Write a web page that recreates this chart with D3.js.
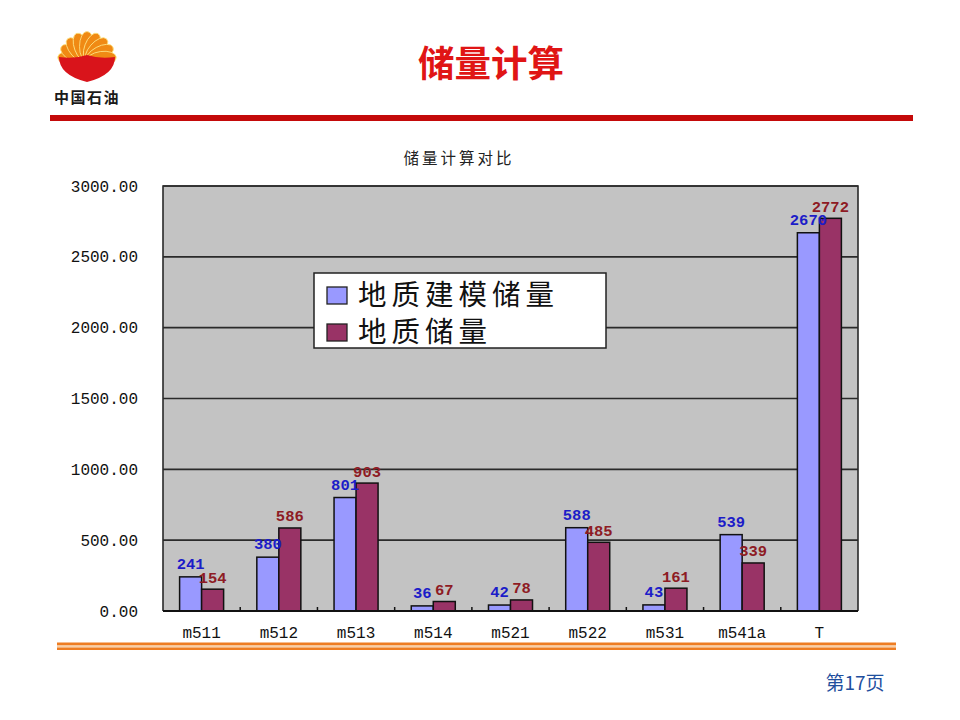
<!DOCTYPE html>
<html><head><meta charset="utf-8">
<script src="https://cdn.jsdelivr.net/npm/d3@7"></script>
<style>
html,body{margin:0;padding:0;background:#fff;}
svg{display:block;}
</style></head>
<body>
<script>
const categories = ["m511","m512","m513","m514","m521","m522","m531","m541a","T"];
const seriesNames = ["地质建模储量","地质储量"];
const modelReserves = [241,380,801,36,42,588,43,539,2670];
const geoReserves = [154,586,903,67,78,485,161,339,2772];
const yTicks = [0,500,1000,1500,2000,2500,3000];
const seriesColors = ["#9999ff","#993366"];
const labelColors = ["#1c1cc8","#8e1b24"];

const W=960,H=720;
const svg=d3.select("body").append("svg").attr("width",W).attr("height",H);

// ---- logo ----
const logo=svg.append("g");
const cx=87, cy=61;
const defs=svg.append("defs");
const rg=defs.append("radialGradient").attr("id","pet").attr("gradientUnits","userSpaceOnUse")
  .attr("cx",cx).attr("cy",cy).attr("r",30);
rg.append("stop").attr("offset","0%").attr("stop-color","#fff3a0");
rg.append("stop").attr("offset","45%").attr("stop-color","#fbc52c");
rg.append("stop").attr("offset","100%").attr("stop-color","#f08a14");
const petalAngles=d3.range(9).map(i=>-172+i*20.5);
petalAngles.forEach((a,i)=>{
  logo.append("ellipse").attr("cx",0).attr("cy",0).attr("rx",15).attr("ry",7.5)
    .attr("transform",`translate(${cx},${cy}) rotate(${a}) translate(14.5,0)`)
    .attr("fill","url(#pet)").attr("stroke","#fde68a").attr("stroke-width",0.8);
});
logo.append("path")
  .attr("d",`M${cx-28},${cy-4} Q${cx-28},${cy+14} ${cx},${cy+21} Q${cx+28},${cy+14} ${cx+28},${cy-4} Q${cx+12},${cy-2} ${cx},${cy-6} Q${cx-12},${cy-2} ${cx-28},${cy-4}Z`)
  .attr("fill","#d9141b");
svg.append("text").attr("x",87).attr("y",103).attr("text-anchor","middle")
  .attr("font-family","Noto Sans CJK SC").attr("font-weight","bold").attr("font-size",15)
  .attr("letter-spacing",1.5).attr("fill","#1a1a1a").text("中国石油");

// ---- title ----
svg.append("text").attr("x",491).attr("y",77).attr("text-anchor","middle")
  .attr("font-family","Noto Sans CJK SC").attr("font-weight","bold").attr("font-size",36.5)
  .attr("fill","#e01515").text("储量计算");
svg.append("rect").attr("x",50).attr("y",115).attr("width",863).attr("height",6).attr("fill","#c40a0a");

// ---- chart ----
const L=163,R=858,T=186,B=611;
const x0=d3.scaleBand().domain(categories).range([L,R]).paddingInner(0.43).paddingOuter(0.215);
const x1=d3.scaleBand().domain([0,1]).range([0,x0.bandwidth()]);
const y=d3.scaleLinear().domain([0,3000]).range([B,T]);

svg.append("text").attr("x",459).attr("y",164).attr("text-anchor","middle")
  .attr("font-family","Noto Sans CJK SC").attr("font-size",15.5).attr("letter-spacing",3)
  .attr("fill","#222").text("储量计算对比");

svg.append("rect").attr("x",L).attr("y",T).attr("width",R-L).attr("height",B-T).attr("fill","#c3c3c3");

// grid
svg.append("g").selectAll("line").data(yTicks).join("line")
  .attr("x1",L).attr("x2",R).attr("y1",d=>y(d)).attr("y2",d=>y(d))
  .attr("stroke","#2a2a2a").attr("stroke-width",1.6);
// frame
svg.append("path").attr("d",`M${L},${B}V${T}H${R}V${B}`).attr("fill","none").attr("stroke","#2a2a2a").attr("stroke-width",1.6);

// y axis labels
const yAxis=d3.axisLeft(y).tickValues(yTicks).tickFormat(d3.format(".2f")).tickSize(0).tickPadding(25);
const ga=svg.append("g").attr("transform",`translate(${L},0)`).call(yAxis);
ga.select(".domain").remove();
ga.selectAll("text").attr("font-family","Liberation Mono").attr("font-size",16).attr("fill","#111");

// bars
const data=categories.map((c,i)=>({c,vals:[modelReserves[i],geoReserves[i]]}));
const groups=svg.append("g").selectAll("g").data(data).join("g")
  .attr("transform",d=>`translate(${x0(d.c)},0)`);
groups.selectAll("rect").data(d=>d.vals.map((v,k)=>({v,k}))).join("rect")
  .attr("x",d=>x1(d.k)).attr("width",x1.bandwidth())
  .attr("y",d=>y(d.v)).attr("height",d=>B-y(d.v))
  .attr("fill",d=>seriesColors[d.k]).attr("stroke","#111").attr("stroke-width",1.5);

// x axis
const xAxis=d3.axisBottom(x0).tickSize(0).tickPadding(16);
const gx=svg.append("g").attr("transform",`translate(0,${B})`).call(xAxis);
gx.select(".domain").remove();
gx.selectAll("text").attr("font-family","Liberation Mono").attr("font-size",16).attr("fill","#111");
svg.append("line").attr("x1",L).attr("x2",R).attr("y1",B).attr("y2",B).attr("stroke","#111").attr("stroke-width",1.8);
// boundary ticks
const step=x0.step();
svg.append("g").selectAll("line").data(categories.slice(1)).join("line")
  .attr("x1",d=>x0(d)-x0.paddingInner()*step/2).attr("x2",d=>x0(d)-x0.paddingInner()*step/2)
  .attr("y1",B).attr("y2",B-4).attr("stroke","#111").attr("stroke-width",1.5);

// value labels
groups.selectAll("text").data(d=>d.vals.map((v,k)=>({v,k}))).join("text")
  .attr("x",d=>x1(d.k)+x1.bandwidth()/2).attr("y",d=>y(d.v)-(d.k?6.5:8))
  .attr("text-anchor","middle").attr("font-family","Liberation Mono").attr("font-weight","bold")
  .attr("font-size",15.5).attr("fill",d=>labelColors[d.k]).text(d=>d.v);

// legend
const lg=svg.append("g");
lg.append("rect").attr("x",314).attr("y",273).attr("width",292).attr("height",75)
  .attr("fill","#fff").attr("stroke","#222").attr("stroke-width",1.5);
seriesNames.forEach((n,k)=>{
  const yy=287+k*37;
  lg.append("rect").attr("x",327).attr("y",yy).attr("width",20).attr("height",17)
    .attr("fill",seriesColors[k]).attr("stroke","#222").attr("stroke-width",1.3);
  lg.append("text").attr("x",358).attr("y",yy+18).attr("font-family","Noto Sans CJK SC")
    .attr("font-size",28.5).attr("letter-spacing",5).attr("fill","#111").text(n);
});

// bottom decorative lines
svg.append("rect").attr("x",57).attr("y",642.5).attr("width",839).attr("height",3).attr("fill","#ee7d22");
svg.append("rect").attr("x",57).attr("y",645.5).attr("width",839).attr("height",2).attr("fill","#f8cfa6");
svg.append("rect").attr("x",57).attr("y",647.5).attr("width",839).attr("height",2.5).attr("fill","#ee7d22");

// footer
svg.append("text").attr("x",855).attr("y",690).attr("text-anchor","middle")
  .attr("font-family","Noto Sans CJK SC").attr("font-size",19).attr("fill","#1f4f9e").text("第17页");
</script>
</body></html>
